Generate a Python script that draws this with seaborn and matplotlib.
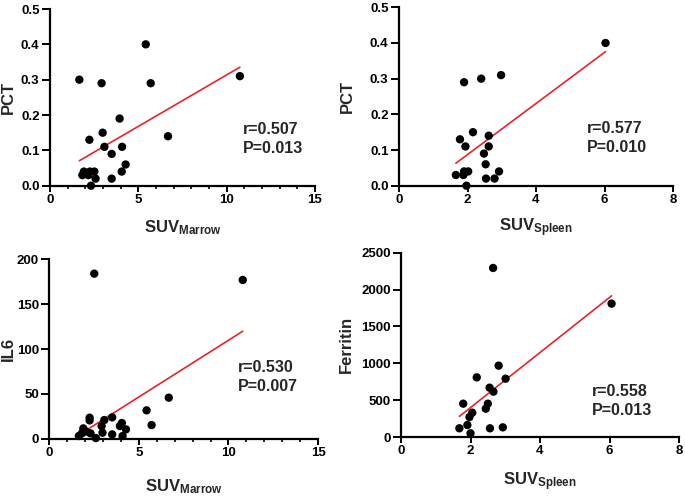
import numpy as np
import matplotlib
matplotlib.use("Agg")
import matplotlib.pyplot as plt
import seaborn as sns
from matplotlib.ticker import MultipleLocator

# PCT vs SUV marrow
marrow_pct_x = [1.66, 2.92, 5.42, 5.70, 10.75, 3.94, 2.98, 2.23, 3.08, 4.08, 3.49,
                6.68, 4.28, 4.06, 3.49, 2.58, 2.32, 1.83, 1.92, 2.17, 2.26, 2.51]
marrow_pct_y = [0.30, 0.29, 0.40, 0.29, 0.31, 0.19, 0.15, 0.13, 0.11, 0.11, 0.09,
                0.14, 0.06, 0.04, 0.02, 0.02, 0.00, 0.03, 0.04, 0.03, 0.04, 0.04]

# PCT vs SUV spleen
spleen_pct_x = [6.03, 2.98, 2.40, 1.90, 2.16, 1.78, 2.62, 1.94, 2.62, 2.48, 2.53,
                1.66, 1.90, 2.02, 1.88, 2.92, 2.54, 2.79, 1.97]
spleen_pct_y = [0.40, 0.31, 0.30, 0.29, 0.15, 0.13, 0.14, 0.11, 0.11, 0.09, 0.06,
                0.03, 0.04, 0.04, 0.03, 0.04, 0.02, 0.02, 0.00]

# IL6 vs SUV marrow
marrow_il6_x = [2.51, 10.80, 6.67, 5.43, 5.71, 3.51, 3.07, 2.25, 2.25, 2.92, 2.97,
                4.05, 3.94, 4.28, 3.51, 4.09, 2.60, 1.65, 1.90, 2.04, 2.30, 1.82]
marrow_il6_y = [184, 177, 45.7, 31.6, 15.2, 23.8, 20.8, 23.4, 20.4, 14.1, 6.7,
                17.5, 14.1, 10.4, 4.8, 3.0, 0.7, 3.0, 11.5, 8.0, 6.0, 6.0]

# Ferritin vs SUV spleen
spleen_fer_x = [2.65, 6.06, 2.81, 3.01, 2.18, 2.55, 2.66, 2.50, 2.44, 1.79, 2.05,
                1.97, 1.91, 1.68, 2.56, 2.93, 2.00]
spleen_fer_y = [2293, 1809, 968, 791, 809, 669, 615, 452, 384, 452, 330,
                271, 163, 118, 118, 131, 50]

sns.set_style("ticks")
plt.rcParams["font.family"] = ["Liberation Sans", "DejaVu Sans"]
plt.rcParams["font.weight"] = "bold"
plt.rcParams["mathtext.fontset"] = "custom"
plt.rcParams["mathtext.bf"] = "Liberation Sans:bold"
plt.rcParams["mathtext.rm"] = "Liberation Sans:bold"

W, H = 685, 496
fig = plt.figure(figsize=(W / 100, H / 100), dpi=100)

def px_axes(x0, x1, ytop, ybot):
    return fig.add_axes([x0 / W, 1 - ybot / H, (x1 - x0) / W, (ybot - ytop) / H])

panels = [
    dict(box=(50, 315, 9, 185.7), x=marrow_pct_x, y=marrow_pct_y, xlim=15, ylim=0.5,
         xmaj=5, xmin=1, ymaj=0.1, yfmt="%.1f", ylab="PCT", xlab=r"$\mathbf{SUV_{Marrow}}$",
         txt=("r=0.507", "P=0.013"), tx=0.728, ty=(0.32, 0.21), ylc=-0.158, xlc=-0.24),
    dict(box=(399, 673, 7.3, 185.7), x=spleen_pct_x, y=spleen_pct_y, xlim=8, ylim=0.5,
         xmaj=2, xmin=None, ymaj=0.1, yfmt="%.1f", ylab="PCT", xlab=r"$\mathbf{SUV_{Spleen}}$",
         txt=("r=0.577", "P=0.010"), tx=0.686, ty=(0.323, 0.213), ylc=-0.19, xlc=-0.237),
    dict(box=(49.3, 318, 259.3, 438.7), x=marrow_il6_x, y=marrow_il6_y, xlim=15, ylim=200,
         xmaj=5, xmin=1, ymaj=50, yfmt="%d", ylab="IL6", xlab=r"$\mathbf{SUV_{Marrow}}$",
         txt=("r=0.530", "P=0.007"), tx=0.70, ty=(0.398, 0.29), ylc=-0.154, xlc=-0.27),
    dict(box=(401, 679, 252.7, 437), x=spleen_fer_x, y=spleen_fer_y, xlim=8, ylim=2500,
         xmaj=2, xmin=None, ymaj=500, yfmt="%d", ylab="Ferritin", xlab=r"$\mathbf{SUV_{Spleen}}$",
         txt=("r=0.558", "P=0.013"), tx=0.686, ty=(0.246, 0.143), ylc=-0.198, xlc=-0.243),
]

for p in panels:
    ax = px_axes(*p["box"])
    sns.regplot(x=np.array(p["x"]), y=np.array(p["y"]), ax=ax, ci=None,
                scatter_kws=dict(s=36, color="black", alpha=1, edgecolor="none",
                                 clip_on=False, zorder=3),
                line_kws=dict(color="#e8232a", lw=1.2, zorder=2))
    ax.set_xlim(0, p["xlim"])
    ax.set_ylim(0, p["ylim"])
    ax.xaxis.set_major_locator(MultipleLocator(p["xmaj"]))
    if p["xmin"]:
        ax.xaxis.set_minor_locator(MultipleLocator(p["xmin"]))
    ax.yaxis.set_major_locator(MultipleLocator(p["ymaj"]))
    ax.yaxis.set_major_formatter(matplotlib.ticker.FormatStrFormatter(p["yfmt"]))
    for s in ["top", "right"]:
        ax.spines[s].set_visible(False)
    for s in ["left", "bottom"]:
        ax.spines[s].set_linewidth(1.6)
        ax.spines[s].set_color("black")
    ax.tick_params(which="major", width=1.4, labelsize=9.5, colors="black", pad=1.5)
    ax.tick_params(axis="y", which="major", length=6)
    ax.tick_params(axis="x", which="major", length=4.5)
    ax.tick_params(which="minor", length=2.5, width=1.2, colors="black")
    for lab in ax.get_xticklabels() + ax.get_yticklabels():
        lab.set_fontweight("bold")
    ax.set_ylabel(p["ylab"], fontsize=12, fontweight="bold")
    ax.set_xlabel(p["xlab"], fontsize=12)
    ax.yaxis.label.set_va("center")
    ax.xaxis.label.set_va("center")
    ax.yaxis.set_label_coords(p["ylc"], 0.5)
    ax.xaxis.set_label_coords(0.5, p["xlc"])
    ax.text(p["tx"], p["ty"][0], p["txt"][0], transform=ax.transAxes, fontsize=11.5,
            fontweight="bold", va="center", ha="left")
    ax.text(p["tx"], p["ty"][1], p["txt"][1], transform=ax.transAxes, fontsize=11.5,
            fontweight="bold", va="center", ha="left")

fig.savefig("out.png", dpi=100)
